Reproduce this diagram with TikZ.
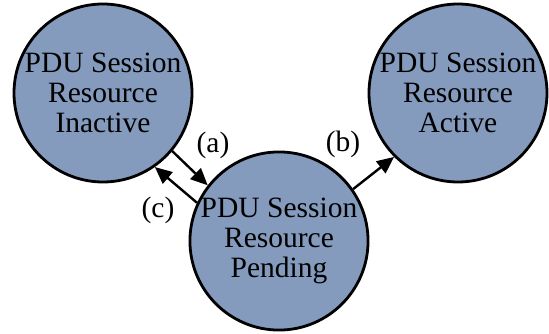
\documentclass[tikz,border=0pt]{standalone}
\usepackage{fontspec}
\setmainfont{Liberation Serif}
\usetikzlibrary{arrows.meta}

\definecolor{stateblue}{RGB}{132,155,189}

\begin{document}
\begin{tikzpicture}[
  x=1pt, y=-1pt,
  state/.style = {
    circle,
    draw=black,
    fill=stateblue,
    line width=2.8pt,
    minimum size=178pt,
    inner sep=0pt,
    align=center,
    font=\fontsize{29.5}{29.8}\selectfont
  },
  arrow/.style = {-{Triangle[length=17pt,width=15pt]}, line width=2.4pt},
  edgelabel/.style = {font=\fontsize{29.5}{29.8}\selectfont, inner sep=0pt}
]
\useasboundingbox (0,0) rectangle (549,334);

% States
\node[state] (inactive) at (103,93) {PDU Session\\Resource\\Inactive};
\node[state] (active) at (458,93) {PDU Session\\Resource\\Active};
\node[state] (pending) at (279,241) {PDU Session\\Resource\\Pending};

% Transitions
\draw[arrow] (inactive.-40) -- (pending.142);
\draw[arrow] (pending.155) -- (inactive.-55);
\draw[arrow] (pending.35) -- (active.225);

% Transition labels
\node[edgelabel] (la) at (213,145) {(a)};
\node[edgelabel] (lb) at (343,144) {(b)};
\node[edgelabel] (lc) at (158,210) {(c)};

\end{tikzpicture}
\end{document}
